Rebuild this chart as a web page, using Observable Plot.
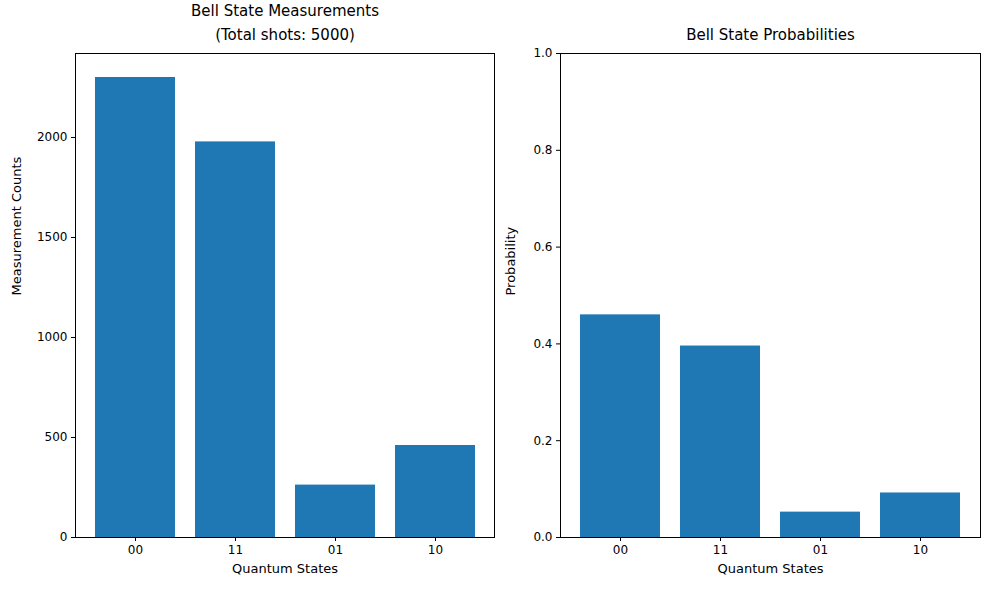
<!DOCTYPE html>
<html>
<head>
<meta charset="utf-8">
<script src="https://cdn.jsdelivr.net/npm/d3@7"></script>
<script src="https://cdn.jsdelivr.net/npm/@observablehq/plot@0.6"></script>
<style>
  body { margin: 0; background: #fff; font-family: "DejaVu Sans", sans-serif; }
  #wrap { display: flex; width: 989px; height: 590px; }
  svg { overflow: visible; }
</style>
</head>
<body>
<div id="wrap"></div>
<script>
const states = ["00", "11", "01", "10"]
const counts = [2300, 1978, 262, 460]
const probs = [0.46, 0.3956, 0.0524, 0.092]
const countTicks = [0, 500, 1000, 1500, 2000]
const probTicks = [0, 0.2, 0.4, 0.6, 0.8, 1.0]

const blue = "#1f77b4"

function panel({width, marginLeft, marginRight, values, domain, ticks, fmt, ylabel, title}) {
  const rows = states.map((s, i) => ({state: s, v: values[i]}))
  return Plot.plot({
    width, height: 590,
    marginLeft, marginRight, marginTop: 53, marginBottom: 53,
    style: {fontFamily: "DejaVu Sans, sans-serif", fontSize: "12px", color: "#000"},
    x: {domain: states, paddingInner: 0.2, paddingOuter: 0.18, label: null, tickSize: 4},
    y: {domain, ticks, tickFormat: fmt, label: null, tickSize: 4},
    marks: [
      Plot.barY(rows, {x: "state", y: "v", fill: blue}),
      Plot.frame({stroke: "#000"}),
      Plot.axisX({tickSize: 4, tickPadding: 4, fontSize: 12}),
      Plot.axisY({ticks, tickFormat: fmt, tickSize: 4, tickPadding: 4, fontSize: 12}),
      Plot.text(["Quantum States"], {frameAnchor: "bottom", dy: 35, fontSize: 13}),
      Plot.text([ylabel], {frameAnchor: "left", rotate: -90, dx: -marginLeft + 16, fontSize: 13}),
      Plot.text([title], {frameAnchor: "top", dy: -14, lineAnchor: "bottom", lineHeight: 1.6, fontSize: 15})
    ]
  })
}

const left = panel({
  width: 494, marginLeft: 75, marginRight: 0,
  values: counts, domain: [0, 2420], ticks: countTicks, fmt: d3.format("d"),
  ylabel: "Measurement Counts", title: "Bell State Measurements\n(Total shots: 5000)"
})
const right = panel({
  width: 495, marginLeft: 66, marginRight: 9,
  values: probs, domain: [0, 1], ticks: probTicks, fmt: d3.format(".1f"),
  ylabel: "Probability", title: "Bell State Probabilities"
})

d3.select("#wrap").append(() => left)
d3.select("#wrap").append(() => right)
</script>
</body>
</html>
